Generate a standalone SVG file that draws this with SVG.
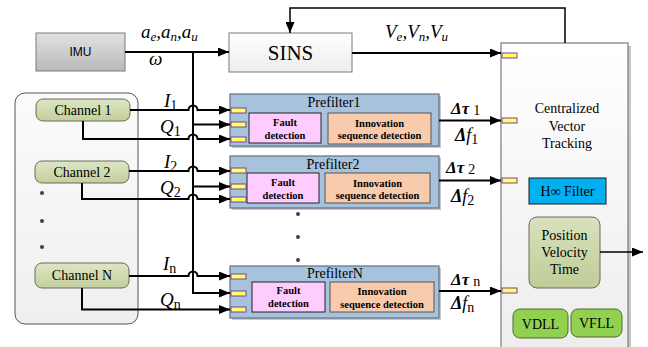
<svg xmlns="http://www.w3.org/2000/svg" width="648" height="347" viewBox="0 0 648 347" font-family="Liberation Serif, Times New Roman, serif">
<defs>
  <marker id="arr" markerUnits="userSpaceOnUse" markerWidth="11" markerHeight="9" refX="11" refY="4.5" orient="auto">
    <path d="M0,0 L11,4.5 L0,9 z" fill="#000"/>
  </marker>
  <linearGradient id="gImu" x1="0" y1="0" x2="0" y2="1">
    <stop offset="0" stop-color="#E2E2E2"/><stop offset="1" stop-color="#B9B9B9"/>
  </linearGradient>
  <linearGradient id="gLight" x1="0" y1="0" x2="0" y2="1">
    <stop offset="0" stop-color="#FFFFFF"/><stop offset="1" stop-color="#EDEDED"/>
  </linearGradient>
  <linearGradient id="gPanel" x1="0" y1="0" x2="0" y2="1">
    <stop offset="0" stop-color="#FBFBFB"/><stop offset="1" stop-color="#EFEFEF"/>
  </linearGradient>
  <linearGradient id="gChan" x1="0" y1="0" x2="0" y2="1">
    <stop offset="0" stop-color="#DDE6C4"/><stop offset="1" stop-color="#C3CF9C"/>
  </linearGradient>
  <linearGradient id="gPvt" x1="0" y1="0" x2="0" y2="1">
    <stop offset="0" stop-color="#D8E2BE"/><stop offset="1" stop-color="#C0CC98"/>
  </linearGradient>
  <style>
    .conn{fill:none;stroke:#000;stroke-width:2;}
    .thin{fill:none;stroke:#000;stroke-width:1.5;}
    .port{fill:#FFFF66;stroke:#7F3F98;stroke-width:1;}
    .pre{fill:#A7C2DD;stroke:#5F6F85;stroke-width:1.2;}
    .fault{fill:#FFCCFF;stroke:#222;stroke-width:1;}
    .innov{fill:#F8CBAD;stroke:#555;stroke-width:1;}
    .chan{fill:url(#gChan);stroke:#6B6B5B;stroke-width:1;}
    .shadow{fill:#C8C8C8;}
    .dot{fill:#404040;}
  </style>
</defs>
<rect width="648" height="347" fill="#fff"/>

<!-- Centralized vector tracking -->
<g id="cvt">
  <rect x="504" y="46" width="127" height="310" class="shadow"/>
  <rect x="501" y="43" width="127" height="310" fill="url(#gLight)" stroke="#7A7A7A" stroke-width="1.2"/>
  <g font-size="14" text-anchor="middle">
    <text x="567" y="113">Centralized</text>
    <text x="567" y="131">Vector</text>
    <text x="567" y="148">Tracking</text>
  </g>
  <rect x="502" y="53" width="15" height="5" class="port"/>
  <rect x="502" y="118" width="15" height="5" class="port"/>
  <rect x="502" y="178" width="15" height="5" class="port"/>
  <rect x="502" y="288" width="15" height="5" class="port"/>
</g>
<g id="hinf">
  <rect x="529" y="178" width="77" height="26" fill="#00B0F0" stroke="#1A1A1A" stroke-width="1"/>
  <text font-size="14" text-anchor="middle" x="567.5" y="196">H∞ Filter</text>
</g>
<g id="pvt">
  <rect x="529" y="217" width="71" height="71" rx="8" fill="url(#gPvt)" stroke="#6B6B5B" stroke-width="1"/>
  <text font-size="14" text-anchor="middle" x="564.5" y="240">Position</text>
  <text font-size="14" text-anchor="middle" x="564.5" y="257">Velocity</text>
  <text font-size="14" text-anchor="middle" x="564.5" y="274">Time</text>
</g>
<g id="vdll">
  <rect x="513" y="309" width="55" height="29" rx="7" fill="#92D050" stroke="#4F6B2A" stroke-width="1"/>
  <text font-size="14" text-anchor="middle" x="540.5" y="329">VDLL</text>
</g>
<g id="vfll">
  <rect x="571" y="309" width="51" height="28" rx="7" fill="#92D050" stroke="#4F6B2A" stroke-width="1"/>
  <text font-size="14" text-anchor="middle" x="596.5" y="328">VFLL</text>
</g>

<!-- IMU -->
<g id="imu">
  <rect x="36" y="33" width="89" height="38" fill="url(#gImu)" stroke="#7A7A7A" stroke-width="1"/>
  <text font-family="Liberation Sans, Arial, sans-serif" font-size="12" text-anchor="middle" x="80.5" y="56">IMU</text>
</g>
<!-- SINS -->
<g id="sins">
  <rect x="229" y="33" width="123" height="39" fill="url(#gLight)" stroke="#7A7A7A" stroke-width="1"/>
  <text font-size="21" text-anchor="middle" x="290.5" y="60">SINS</text>
</g>

<!-- Channel panel -->
<g id="channels">
  <rect x="15" y="93" width="123" height="231" rx="10" fill="url(#gPanel)" stroke="#555" stroke-width="1"/>
  <circle cx="42" cy="193" r="2" class="dot"/>
  <circle cx="42" cy="221" r="2" class="dot"/>
  <circle cx="42" cy="247" r="2" class="dot"/>
</g>
<g id="ch1">
  <rect x="36" y="99" width="94" height="22" rx="7" class="chan"/>
  <text font-size="14" text-anchor="middle" x="83" y="115">Channel 1</text>
</g>
<g id="ch2">
  <rect x="35" y="161" width="94" height="22" rx="7" class="chan"/>
  <text font-size="14" text-anchor="middle" x="82" y="177">Channel 2</text>
</g>
<g id="chN">
  <rect x="35" y="263" width="94" height="25" rx="7" class="chan"/>
  <text font-size="14" text-anchor="middle" x="82" y="280">Channel N</text>
</g>

<!-- Prefilters -->
<g id="pf1">
  <rect x="232" y="96" width="209" height="52" class="shadow"/>
  <rect x="230" y="94" width="209" height="52" class="pre"/>
  <text font-size="14" text-anchor="middle" x="334" y="107">Prefilter1</text>
  <rect x="249" y="113" width="72" height="30" class="fault"/>
  <rect x="328" y="113" width="103" height="31" class="innov"/>
  <g font-weight="bold" font-size="10.5" text-anchor="middle">
    <text x="285" y="126">Fault</text>
    <text x="285" y="139">detection</text>
    <text x="379.5" y="127">Innovation</text>
    <text x="379.5" y="139">sequence detection</text>
  </g>
  <rect x="231" y="108" width="15" height="5" class="port"/>
  <rect x="231" y="122" width="15" height="5" class="port"/>
  <rect x="231" y="137" width="15" height="5" class="port"/>
</g>
<g id="pf2">
  <rect x="232" y="158" width="209" height="52" class="shadow"/>
  <rect x="230" y="156" width="209" height="52" class="pre"/>
  <text font-size="14" text-anchor="middle" x="333" y="169">Prefilter2</text>
  <rect x="247" y="173" width="72" height="30" class="fault"/>
  <rect x="325" y="173" width="105" height="30" class="innov"/>
  <g font-weight="bold" font-size="10.5" text-anchor="middle">
    <text x="283" y="186">Fault</text>
    <text x="283" y="199">detection</text>
    <text x="377.5" y="187">Innovation</text>
    <text x="377.5" y="199">sequence detection</text>
  </g>
  <rect x="231" y="168" width="15" height="5" class="port"/>
  <rect x="231" y="184" width="15" height="5" class="port"/>
  <rect x="231" y="197" width="15" height="5" class="port"/>
</g>
<g id="pfdots">
  <circle cx="298" cy="214" r="2" class="dot"/>
  <circle cx="298" cy="237" r="2" class="dot"/>
  <circle cx="298" cy="260" r="2" class="dot"/>
</g>
<g id="pfN">
  <rect x="232" y="268" width="209" height="52" class="shadow"/>
  <rect x="230" y="266" width="209" height="52" class="pre"/>
  <text font-size="14" text-anchor="middle" x="335" y="278">PrefilterN</text>
  <rect x="252" y="282" width="73" height="30" class="fault"/>
  <rect x="330" y="282" width="104" height="30" class="innov"/>
  <g font-weight="bold" font-size="10.5" text-anchor="middle">
    <text x="288.5" y="294">Fault</text>
    <text x="288.5" y="307">detection</text>
    <text x="382" y="295">Innovation</text>
    <text x="382" y="308">sequence detection</text>
  </g>
  <rect x="231" y="274" width="15" height="5" class="port"/>
  <rect x="231" y="291" width="15" height="5" class="port"/>
  <rect x="231" y="307" width="15" height="5" class="port"/>
</g>

<!-- Connectors -->
<g id="connectors">
  <path class="conn" d="M125,52 H229" marker-end="url(#arr)"/>
  <path class="conn" d="M193,52 V293 H230" marker-end="url(#arr)"/>
  <path class="conn" d="M193,124.5 H230" marker-end="url(#arr)"/>
  <path class="conn" d="M193,186.5 H230" marker-end="url(#arr)"/>
  <path class="conn" d="M130,110 H188.5 A4.5,4.5 0 0 1 197.5,110 H230" marker-end="url(#arr)"/>
  <path class="conn" d="M83,121 V139 H188.5 A4.5,4.5 0 0 1 197.5,139 H230" marker-end="url(#arr)"/>
  <path class="conn" d="M129,171 H188.5 A4.5,4.5 0 0 1 197.5,171 H230" marker-end="url(#arr)"/>
  <path class="conn" d="M82,183 V199 H188.5 A4.5,4.5 0 0 1 197.5,199 H230" marker-end="url(#arr)"/>
  <path class="conn" d="M129,276 H188.5 A4.5,4.5 0 0 1 197.5,276 H230" marker-end="url(#arr)"/>
  <path class="conn" d="M82,288 V309.5 H230" marker-end="url(#arr)"/>
  <path class="conn" d="M352,53 H501" marker-end="url(#arr)"/>
  <path class="thin" d="M565,43 V8 H290 V33" marker-end="url(#arr)"/>
  <path class="conn" d="M439,120.5 H501" marker-end="url(#arr)"/>
  <path class="conn" d="M439,180.5 H501" marker-end="url(#arr)"/>
  <path class="conn" d="M439,291 H501" marker-end="url(#arr)"/>
  <path class="thin" d="M600,252 H643" marker-end="url(#arr)"/>
</g>

<!-- Labels -->
<g id="labels" font-style="italic" font-size="19">
  <text x="141" y="38">a<tspan font-size="13" dy="3">e</tspan><tspan dy="-3">,a</tspan><tspan font-size="13" dy="3">n</tspan><tspan dy="-3">,a</tspan><tspan font-size="13" dy="3">u</tspan></text>
  <text x="149" y="65">ω</text>
  <text x="385" y="38">V<tspan font-size="13" dy="3">e</tspan><tspan dy="-3">,V</tspan><tspan font-size="13" dy="3">n</tspan><tspan dy="-3">,V</tspan><tspan font-size="13" dy="3">u</tspan></text>
  <text x="164" y="107">I<tspan font-style="normal" font-size="14" dy="3">1</tspan></text>
  <text x="160" y="133">Q<tspan font-style="normal" font-size="14" dy="3">1</tspan></text>
  <text x="164" y="168">I<tspan font-style="normal" font-size="14" dy="3">2</tspan></text>
  <text x="160" y="194">Q<tspan font-style="normal" font-size="14" dy="3">2</tspan></text>
  <text x="163" y="270">I<tspan font-style="normal" font-size="14" dy="3">n</tspan></text>
  <text x="160" y="306">Q<tspan font-style="normal" font-size="14" dy="3">n</tspan></text>
  <text font-weight="bold" font-size="17" x="451" y="114">Δτ<tspan font-style="normal" font-weight="normal" font-size="14" dx="4" dy="1">1</tspan></text>
  <text font-size="18" x="455" y="141"><tspan font-weight="bold">Δ</tspan>f<tspan font-style="normal" font-size="14" dy="3">1</tspan></text>
  <text font-weight="bold" font-size="17" x="446" y="173">Δτ<tspan font-style="normal" font-weight="normal" font-size="14" dx="4" dy="1">2</tspan></text>
  <text font-size="18" x="451" y="202"><tspan font-weight="bold">Δ</tspan>f<tspan font-style="normal" font-size="14" dy="3">2</tspan></text>
  <text font-weight="bold" font-size="17" x="451" y="285">Δτ<tspan font-style="normal" font-weight="normal" font-size="14" dx="4" dy="1">n</tspan></text>
  <text font-size="18" x="451" y="309"><tspan font-weight="bold">Δ</tspan>f<tspan font-style="normal" font-size="14" dy="3">n</tspan></text>
</g>
</svg>
